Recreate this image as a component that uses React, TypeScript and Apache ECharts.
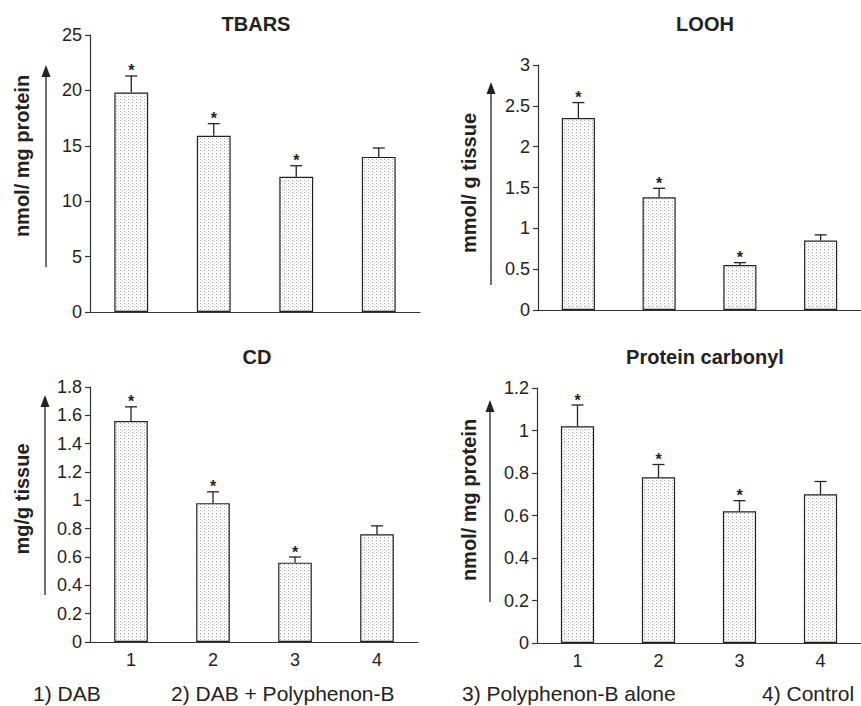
import React, { useEffect, useRef } from 'react';
import * as echarts from 'echarts';

const categories = ['1', '2', '3', '4'];
const panelTitles = ['TBARS', 'LOOH', 'CD', 'Protein carbonyl'];
const yAxisNames = ['nmol/ mg protein', 'mmol/ g tissue', 'mg/g tissue', 'nmol/ mg protein'];

const tbarsMean = [19.8, 15.9, 12.2, 14.0];
const tbarsSem = [1.5, 1.1, 1.0, 0.8];
const loohMean = [2.35, 1.38, 0.55, 0.85];
const loohSem = [0.19, 0.11, 0.03, 0.07];
const cdMean = [1.56, 0.98, 0.56, 0.76];
const cdSem = [0.10, 0.08, 0.04, 0.06];
const pcMean = [1.02, 0.78, 0.62, 0.70];
const pcSem = [0.10, 0.06, 0.05, 0.06];

const significant = [true, true, true, false];
const yMax = [25, 3, 1.8, 1.2];
const yInterval = [5, 0.5, 0.2, 0.2];
const groupLabels = ['1) DAB', '2) DAB + Polyphenon-B', '3) Polyphenon-B alone', '4) Control'];

const FONT = '"Liberation Sans", Arial, Helvetica, sans-serif';
const INK = '#222';

function makePattern(): any {
  const c = document.createElement('canvas');
  c.width = 4;
  c.height = 3;
  const ctx = c.getContext('2d');
  if (ctx) {
    ctx.fillStyle = '#ffffff';
    ctx.fillRect(0, 0, 4, 3);
    ctx.fillStyle = '#a6a6a6';
    ctx.fillRect(0, 0, 1, 1);
    ctx.fillStyle = '#d6d6d6';
    ctx.fillRect(2, 1, 1, 1);
  }
  return { image: c, repeat: 'repeat', imageWidth: 4, imageHeight: 3 };
}

export default function App() {
  const ref = useRef<HTMLDivElement>(null);

  useEffect(() => {
    if (!ref.current) return;
    const chart = echarts.init(ref.current, null, { renderer: 'svg' });

    const means = [tbarsMean, loohMean, cdMean, pcMean];
    const sems = [tbarsSem, loohSem, cdSem, pcSem];

    const grids = [
      { left: 90, top: 35, width: 330, height: 277 },
      { left: 538, top: 65, width: 332, height: 245 },
      { left: 90, top: 387, width: 328, height: 255 },
      { left: 537, top: 388, width: 326, height: 255 },
    ];

    const pattern = makePattern();

    const xAxis = grids.map((_, i) => ({
      type: 'category',
      gridIndex: i,
      data: categories,
      boundaryGap: true,
      axisLine: { lineStyle: { color: '#333', width: 1.2 } },
      axisTick: { show: false },
      axisLabel: {
        show: i >= 2,
        fontSize: 18,
        color: INK,
        fontFamily: FONT,
        margin: 9,
      },
      splitLine: { show: false },
    }));

    const yAxis = grids.map((_, i) => ({
      type: 'value',
      gridIndex: i,
      min: 0,
      max: yMax[i],
      interval: yInterval[i],
      axisLine: { show: true, lineStyle: { color: '#333', width: 1.2 } },
      axisTick: { show: true, length: 5, lineStyle: { color: '#333', width: 1.2 } },
      axisLabel: { fontSize: 18, color: INK, fontFamily: FONT, margin: 8 },
      splitLine: { show: false },
    }));

    const series: any[] = [];
    means.forEach((m, i) => {
      series.push({
        type: 'bar',
        xAxisIndex: i,
        yAxisIndex: i,
        data: m,
        barWidth: '41%',
        itemStyle: { color: pattern, borderColor: INK, borderWidth: 1.2 },
        z: 2,
      });
      series.push({
        type: 'custom',
        xAxisIndex: i,
        yAxisIndex: i,
        z: 3,
        encode: { x: 0, y: [1, 2] },
        data: m.map((v, j) => [j, v, v + sems[i][j], significant[j] ? 1 : 0]),
        renderItem: (params: any, api: any) => {
          const idx = api.value(0);
          const base = api.coord([idx, api.value(1)]);
          const top = api.coord([idx, api.value(2)]);
          const children: any[] = [
            {
              type: 'line',
              shape: { x1: base[0], y1: base[1], x2: top[0], y2: top[1] },
              style: { stroke: INK, lineWidth: 1.3 },
            },
            {
              type: 'line',
              shape: { x1: top[0] - 6, y1: top[1], x2: top[0] + 6, y2: top[1] },
              style: { stroke: INK, lineWidth: 1.3 },
            },
          ];
          if (api.value(3)) {
            children.push({
              type: 'text',
              x: top[0],
              y: top[1] - 5,
              style: {
                text: '*',
                fontSize: 16,
                fontWeight: 'bold',
                fontFamily: FONT,
                fill: INK,
                align: 'center',
                verticalAlign: 'middle',
              },
            });
          }
          return { type: 'group', children };
        },
      });
    });

    const titlePos = [
      [256, 24],
      [705, 24],
      [257, 357],
      [705, 357],
    ];
    const namePos = [
      [22, 156],
      [469, 183],
      [22, 499],
      [469, 500],
    ];
    const arrowPos = [
      [46, 267, 65],
      [491, 285, 82],
      [45, 595, 395],
      [490, 602, 400],
    ];
    const labelPos = [33, 171, 462, 762];

    const graphic: any[] = [];
    panelTitles.forEach((t, i) => {
      graphic.push({
        type: 'text',
        x: titlePos[i][0],
        y: titlePos[i][1],
        style: {
          text: t,
          fontSize: 20,
          fontWeight: 'bold',
          fontFamily: FONT,
          fill: INK,
          align: 'center',
          verticalAlign: 'middle',
        },
      });
      graphic.push({
        type: 'text',
        x: namePos[i][0],
        y: namePos[i][1],
        rotation: Math.PI / 2,
        style: {
          text: yAxisNames[i],
          fontSize: 20,
          fontWeight: 'bold',
          fontFamily: FONT,
          fill: INK,
          align: 'center',
          verticalAlign: 'middle',
        },
      });
      const [ax, ay1, ay2] = arrowPos[i];
      graphic.push({
        type: 'line',
        shape: { x1: ax, y1: ay1, x2: ax, y2: ay2 + 10 },
        style: { stroke: INK, lineWidth: 1.3 },
      });
      graphic.push({
        type: 'polygon',
        shape: { points: [[ax, ay2], [ax - 4.5, ay2 + 12], [ax + 4.5, ay2 + 12]] },
        style: { fill: INK },
      });
    });
    groupLabels.forEach((t, i) => {
      graphic.push({
        type: 'text',
        x: labelPos[i],
        y: 693,
        style: {
          text: t,
          fontSize: 21,
          fontFamily: FONT,
          fill: INK,
          align: 'left',
          verticalAlign: 'middle',
        },
      });
    });

    chart.setOption({
      animation: false,
      backgroundColor: '#ffffff',
      grid: grids.map((g) => ({ ...g, containLabel: false })),
      xAxis,
      yAxis,
      series,
      graphic,
    });

    return () => chart.dispose();
  }, []);

  return (
    <div
      ref={ref}
      style={{ position: 'fixed', left: 0, top: 0, width: 861, height: 706, background: '#fff' }}
    />
  );
}
